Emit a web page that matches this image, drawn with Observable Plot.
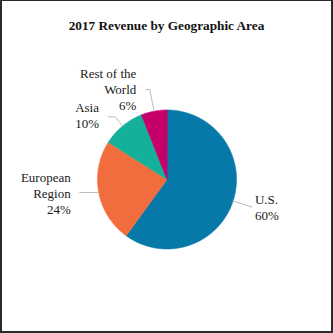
<!DOCTYPE html>
<html>
<head>
<meta charset="utf-8">
<script src="https://cdn.jsdelivr.net/npm/d3@7"></script>
<script src="https://cdn.jsdelivr.net/npm/@observablehq/plot@0.6"></script>
<style>
  html, body { margin: 0; padding: 0; background: #fff; }
  #wrap { position: relative; width: 333px; height: 333px; overflow: hidden; background: #fff; }
  #title { position: absolute; left: 0; right: 0; top: 18.5px; text-align: center;
    font: bold 13.25px/14px "Liberation Serif", "Times New Roman", serif; color: #111; }
  #frame { position: absolute; inset: 0; box-sizing: border-box; border-style: solid;
    border-color: #2a2a2a; border-width: 1px 2px 2px 2px; pointer-events: none; }
  #chart { position: absolute; left: 0; top: 0; }
</style>
</head>
<body>
<div id="wrap">
  <div id="chart"></div>
  <div id="title">2017 Revenue by Geographic Area</div>
  <div id="frame"></div>
</div>
<script>
// ---- data ----
const categories = ["U.S.", "European Region", "Asia", "Rest of the World"];
const labelText = ["U.S.", "European\nRegion", "Asia", "Rest of the\nWorld"];
const values = [60, 24, 10, 6];
const colors = ["#0779a9", "#f26d3d", "#14b09a", "#c6006b"];

// ---- layout (not data) ----
const W = 333, H = 333, CX = 166.5, CY = 179, R = 69.5;
// elbow radius factor, horizontal run, text offsets, anchor
const leaderLayout = [
  {k: 1.27, hx: 1, tdx: 3, tdy: 13, anchor: "start"},
  {k: 1.0, hx: -19, tdx: -9, tdy: 21, anchor: "end"},
  {k: 1.17, hx: -7, tdx: -33, tdy: 11, anchor: "start"},
  {k: 1.32, hx: -4, tdx: -9.5, tdy: 21, anchor: "end"}
];

const arcs = d3.pie().sort(null).value(d => d)(values);
const pt = (a, r) => ({x: r * Math.sin(a), y: -r * Math.cos(a)});

const slicePts = [];
arcs.forEach((a, i) => {
  slicePts.push({cat: categories[i], x: 0, y: 0});
  const steps = Math.max(2, Math.ceil((a.endAngle - a.startAngle) / (Math.PI / 360)));
  for (let s = 0; s <= steps; ++s) {
    const t = a.startAngle + (a.endAngle - a.startAngle) * s / steps;
    slicePts.push({cat: categories[i], ...pt(t, R)});
  }
});

const leaderPts = [];
const labels = [];
arcs.forEach((a, i) => {
  const L = leaderLayout[i];
  const mid = (a.startAngle + a.endAngle) / 2;
  const p0 = pt(mid, R), p1 = pt(mid, R * L.k);
  const p2 = {x: p1.x + L.hx, y: p1.y};
  [p0, p1, p2].forEach(p => leaderPts.push({cat: categories[i], ...p}));
  labels.push({
    cat: categories[i],
    text: labelText[i] + "\n" + values[i] + "%",
    x: p2.x + L.tdx, y: p2.y + L.tdy, anchor: L.anchor
  });
});

const chart = Plot.plot({
  width: W, height: H, margin: 0,
  style: {fontFamily: "'Liberation Serif', 'Times New Roman', serif", background: "transparent"},
  x: {domain: [-CX, W - CX], range: [0, W], axis: null},
  y: {domain: [-CY, H - CY], range: [0, H], axis: null},
  color: {domain: categories, range: colors},
  marks: [
    Plot.line(slicePts, {x: "x", y: "y", z: "cat", fill: "cat", stroke: "cat", strokeWidth: 0.6, curve: "linear-closed"}),
    Plot.line(leaderPts, {x: "x", y: "y", z: "cat", stroke: "#bdbdbd", strokeWidth: 1}),
    Plot.text(labels.filter(d => d.anchor === "start"), {x: "x", y: "y", text: "text", textAnchor: "start", lineAnchor: "bottom", lineHeight: 16 / 13, fontSize: 13, fill: "#1a1a1a"}),
    Plot.text(labels.filter(d => d.anchor === "end"), {x: "x", y: "y", text: "text", textAnchor: "end", lineAnchor: "bottom", lineHeight: 16 / 13, fontSize: 13, fill: "#1a1a1a"})
  ]
});
document.getElementById("chart").appendChild(chart);
</script>
</body>
</html>
